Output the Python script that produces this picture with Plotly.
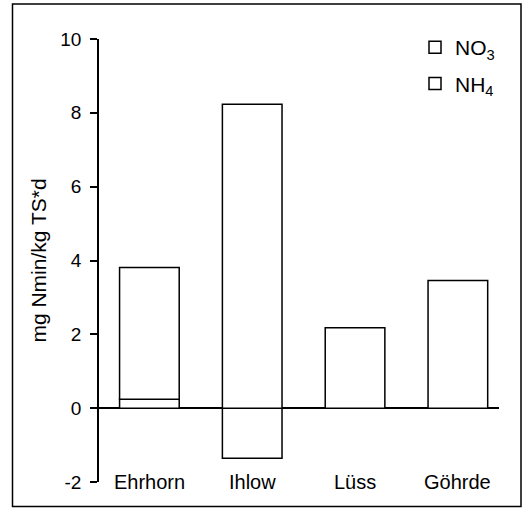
import plotly.graph_objects as go

categories = ["Ehrhorn", "Ihlow", "Lüss", "Göhrde"]
nh4 = [0.24, -1.36, 0.0, 0.0]
no3 = [3.57, 8.23, 2.18, 3.46]
y_ticks = [-2, 0, 2, 4, 6, 8, 10]
y_tick_labels = ["-2", "0", "2", "4", "6", "8", "10"]

FONT = "Liberation Sans, Arial, sans-serif"

fig = go.Figure()
fig.add_trace(go.Bar(
    x=categories, y=nh4, name="NH<sub>4</sub>", legendgroup="nh4", legendrank=2,
    marker=dict(color="white", line=dict(color="black", width=1.5)),
    width=0.58,
))
fig.add_trace(go.Bar(
    x=categories, y=no3, name="NO<sub>3</sub>", legendgroup="no3", legendrank=1,
    marker=dict(color="white", line=dict(color="black", width=1.5)),
    width=0.58,
))

annotations = [
    dict(x=c, y=y_ticks[0], xref="x", yref="y", text=c, showarrow=False,
         yanchor="middle", xanchor="center",
         font=dict(family=FONT, size=20, color="black"))
    for c in categories
]

fig.update_layout(
    width=528, height=509,
    margin=dict(l=99, r=29, t=39, b=27),
    paper_bgcolor="white", plot_bgcolor="white",
    barmode="relative",
    showlegend=True,
    legend=dict(x=0.79, y=1.027, xanchor="left", yanchor="top",
                traceorder="grouped", tracegroupgap=6,
                font=dict(family=FONT, size=21, color="black"),
                bgcolor="rgba(0,0,0,0)"),
    font=dict(family=FONT, color="black"),
    xaxis=dict(range=[-0.49, 3.4], showticklabels=False, ticks="",
               showline=False, showgrid=False, zeroline=False),
    yaxis=dict(range=[-2, 10], tickvals=y_ticks, ticktext=y_tick_labels,
               ticks="outside", ticklen=7,
               tickwidth=1.5, tickcolor="black",
               showline=True, linecolor="black", linewidth=1.5,
               showgrid=False, zeroline=True, zerolinecolor="black",
               zerolinewidth=1.5,
               tickfont=dict(family=FONT, size=19, color="black"),
               ticklabelstandoff=5,
               title=dict(text="mg Nmin/kg TS*d", standoff=8,
                          font=dict(family=FONT, size=21, color="black"))),
    annotations=annotations,
    shapes=[dict(type="rect", xref="paper", yref="paper",
                 x0=(12.5 - 99) / 400, x1=(521 - 99) / 400,
                 y0=(482 - 506.5) / 443, y1=(482 - 4) / 443,
                 line=dict(color="black", width=1.5), layer="above")],
)

fig.write_html("out.html")
